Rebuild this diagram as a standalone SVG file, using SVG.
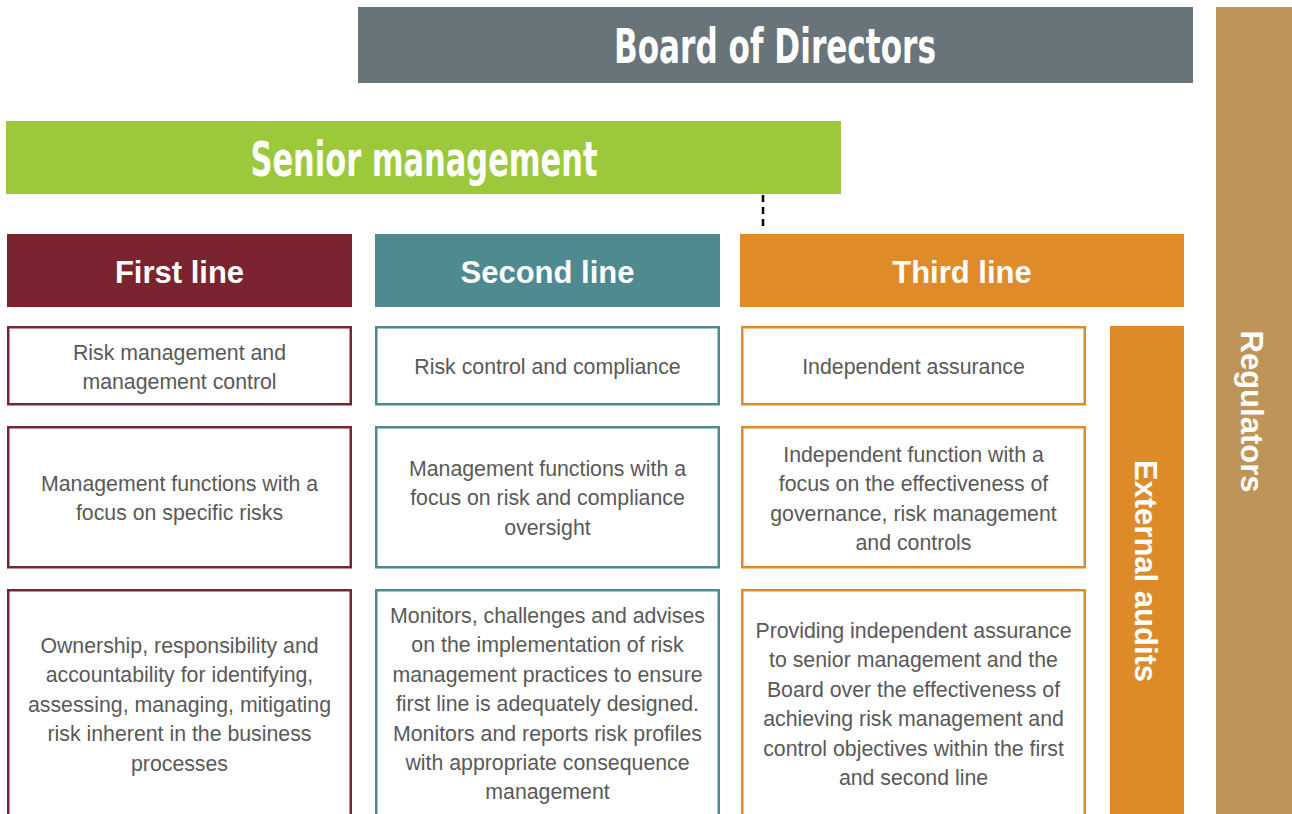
<svg xmlns="http://www.w3.org/2000/svg" width="1292" height="814" viewBox="0 0 1292 814">
<style>
.title{font-family:"Liberation Sans Narrow","DejaVu Sans Condensed","Liberation Sans",sans-serif;font-weight:bold;font-stretch:condensed;fill:#fff;text-anchor:middle}
.hdr{font-family:"Liberation Sans",Arial,sans-serif;font-weight:bold;font-size:31px;fill:#fff;text-anchor:middle}
.body{font-family:"Liberation Sans",Arial,sans-serif;font-size:21.3px;fill:#595959;text-anchor:middle}
.b1{fill:#fff;stroke:#7b2430;stroke-width:2.5}
.b2{fill:#fff;stroke:#4f8a90;stroke-width:2.5}
.b3{fill:#fff;stroke:#de8b28;stroke-width:2.5}
</style>
<rect width="1292" height="814" fill="#fff"/>
<g id="regulators">
<rect x="1216" y="7" width="76" height="807" fill="#bf9459"/>
<text class="hdr" transform="translate(1252,411.5) rotate(90)" x="0" y="11">Regulators</text>
</g>
<g id="board">
<rect x="358" y="7" width="835" height="76" fill="#69747a"/>
<text class="title" x="775" y="63" font-size="48" textLength="322" lengthAdjust="spacingAndGlyphs">Board of Directors</text>
</g>
<g id="senior">
<rect x="6" y="121" width="835" height="73" fill="#9bc93b"/>
<text class="title" x="424" y="176" font-size="48" textLength="347" lengthAdjust="spacingAndGlyphs">Senior management</text>
</g>
<g id="connectors">
<line x1="763" y1="195" x2="763" y2="229" stroke="#000" stroke-width="2.5" stroke-dasharray="7,5"/>
</g>
<g id="first-line">
<rect x="7" y="234" width="345" height="73" fill="#7b2430"/>
<text class="hdr" x="179.5" y="283">First line</text>
</g>
<g id="second-line">
<rect x="375" y="234" width="345" height="73" fill="#4f8a90"/>
<text class="hdr" x="547.5" y="283">Second line</text>
</g>
<g id="third-line">
<rect x="740" y="234" width="444" height="73" fill="#de8b28"/>
<text class="hdr" x="962" y="283">Third line</text>
</g>
<g id="external-audits">
<rect x="1110" y="326" width="74" height="488" fill="#dd8a28"/>
<text class="hdr" transform="translate(1146,571) rotate(90)" x="0" y="11">External audits</text>
</g>
<g id="first-1">
<rect class="b1" x="8.25" y="327.25" width="342.5" height="77"/>
<text class="body" x="179.5" y="360"><tspan x="179.5">Risk management and</tspan><tspan x="179.5" dy="29.4">management control</tspan></text>
</g>
<g id="first-2">
<rect class="b1" x="8.25" y="427.25" width="342.5" height="140"/>
<text class="body" x="179.5" y="490.5"><tspan x="179.5">Management functions with a</tspan><tspan x="179.5" dy="29.4">focus on specific risks</tspan></text>
</g>
<g id="first-3">
<rect class="b1" x="8.25" y="590.25" width="342.5" height="240"/>
<text class="body" x="179.5" y="653"><tspan x="179.5">Ownership, responsibility and</tspan><tspan x="179.5" dy="29.4">accountability for identifying,</tspan><tspan x="179.5" dy="29.4">assessing, managing, mitigating</tspan><tspan x="179.5" dy="29.4">risk inherent in the business</tspan><tspan x="179.5" dy="29.4">processes</tspan></text>
</g>
<g id="second-1">
<rect class="b2" x="376.25" y="327.25" width="342.5" height="77"/>
<text class="body" x="547.5" y="374">Risk control and compliance</text>
</g>
<g id="second-2">
<rect class="b2" x="376.25" y="427.25" width="342.5" height="140"/>
<text class="body" x="547.5" y="476"><tspan x="547.5">Management functions with a</tspan><tspan x="547.5" dy="29.4">focus on risk and compliance</tspan><tspan x="547.5" dy="29.4">oversight</tspan></text>
</g>
<g id="second-3">
<rect class="b2" x="376.25" y="590.25" width="342.5" height="240"/>
<text class="body" x="547.5" y="623"><tspan x="547.5">Monitors, challenges and advises</tspan><tspan x="547.5" dy="29.4">on the implementation of risk</tspan><tspan x="547.5" dy="29.4">management practices to ensure</tspan><tspan x="547.5" dy="29.4">first line is adequately designed.</tspan><tspan x="547.5" dy="29.4">Monitors and reports risk profiles</tspan><tspan x="547.5" dy="29.4">with appropriate consequence</tspan><tspan x="547.5" dy="29.4">management</tspan></text>
</g>
<g id="third-1">
<rect class="b3" x="742.25" y="327.25" width="342.5" height="77"/>
<text class="body" x="913.5" y="374">Independent assurance</text>
</g>
<g id="third-2">
<rect class="b3" x="742.25" y="427.25" width="342.5" height="140"/>
<text class="body" x="913.5" y="462"><tspan x="913.5">Independent function with a</tspan><tspan x="913.5" dy="29.4">focus on the effectiveness of</tspan><tspan x="913.5" dy="29.4">governance, risk management</tspan><tspan x="913.5" dy="29.4">and controls</tspan></text>
</g>
<g id="third-3">
<rect class="b3" x="742.25" y="590.25" width="342.5" height="240"/>
<text class="body" x="913.5" y="638"><tspan x="913.5">Providing independent assurance</tspan><tspan x="913.5" dy="29.4">to senior management and the</tspan><tspan x="913.5" dy="29.4">Board over the effectiveness of</tspan><tspan x="913.5" dy="29.4">achieving risk management and</tspan><tspan x="913.5" dy="29.4">control objectives within the first</tspan><tspan x="913.5" dy="29.4">and second line</tspan></text>
</g>
</svg>
